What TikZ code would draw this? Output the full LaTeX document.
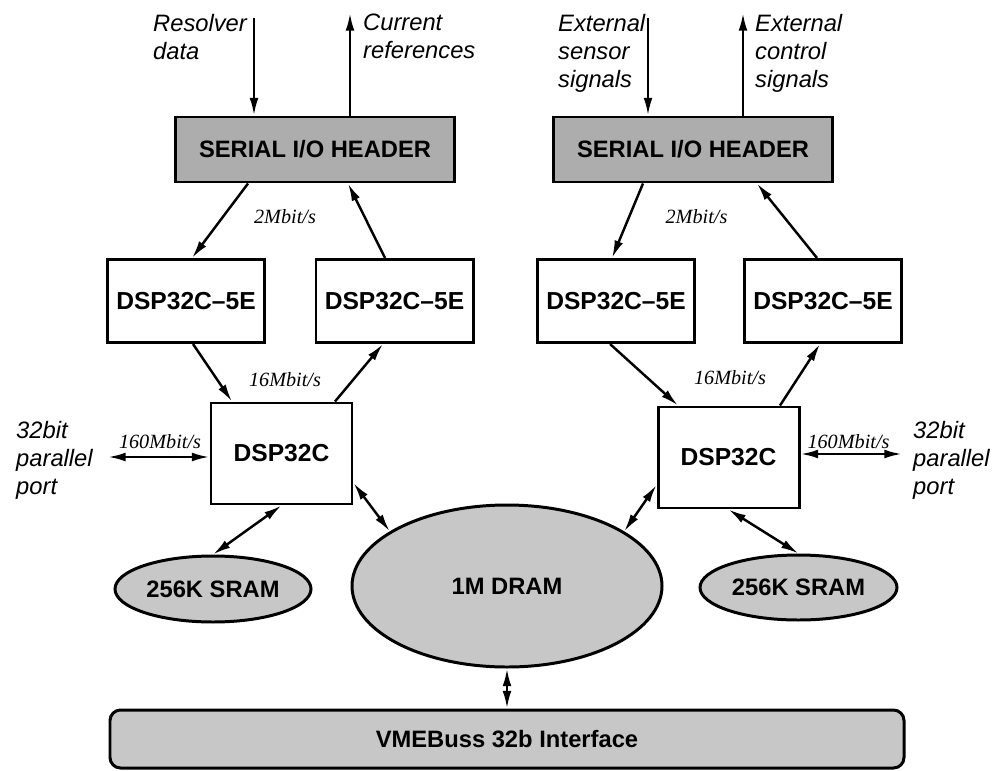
\documentclass[tikz,border=0pt]{standalone}
\usepackage{fontspec}
\setmainfont{Liberation Serif}
\setsansfont{Liberation Sans}
\usetikzlibrary{arrows.meta,shapes.geometric}

\begin{document}
\begin{tikzpicture}[line width=1.4pt, >={Latex[length=10pt,width=5pt]},
    box/.style={draw, line width=1.7pt, minimum width=3.14cm, minimum height=1.66cm, inner sep=0pt, font=\sffamily\bfseries\fontsize{14}{16}\selectfont},
    dsp/.style={box, minimum width=2.82cm, minimum height=2.02cm},
    hdr/.style={box, fill=black!32, minimum width=5.58cm, minimum height=1.3cm, font=\sffamily\bfseries\fontsize{13.5}{16}\selectfont},
    mem/.style={draw, ellipse, line width=1.7pt, fill=black!22, inner sep=0pt, font=\sffamily\bfseries\fontsize{13.5}{16}\selectfont},
    rate/.style={font=\itshape\fontsize{11.5}{13}\selectfont, inner sep=0pt},
    sig/.style={font=\sffamily\itshape\fontsize{13.5}{16}\selectfont, align=left, anchor=north west, inner sep=0pt}]
    \useasboundingbox (0,0) rectangle (19.92,15.4);
    % Serial headers
    \node[hdr] (hdrL) at (6.30,12.41) {SERIAL I/O HEADER};
    \node[hdr] (hdrR) at (13.86,12.41) {SERIAL I/O HEADER};
    % Outside signals
    \node[sig] (resolver) at (3.04,15.14) {Resolver\\data};
    \node[sig] (current) at (7.24,15.14) {Current\\references};
    \node[sig] (sensor) at (11.14,15.14) {External\\sensor\\signals};
    \node[sig] (control) at (15.08,15.14) {External\\control\\signals};
    \coordinate (inL) at (5.08,15.04);
    \coordinate (outL) at (7.0,15.14);
    \coordinate (inR) at (12.96,15.04);
    \coordinate (outR) at (14.86,15.14);
    \draw[->] (inL) -- (inL |- hdrL.north);
    \draw[->] (outL |- hdrL.north) -- (outL);
    \draw[->] (inR) -- (inR |- hdrR.north);
    \draw[->] (outR |- hdrR.north) -- (outR);
    % DSP32C-5E boxes
    \node[box] (aL) at (3.72,9.38) {DSP32C--5E};
    \node[box] (bL) at (7.89,9.38) {DSP32C--5E};
    \node[box] (aR) at (12.32,9.38) {DSP32C--5E};
    \node[box] (bR) at (16.46,9.38) {DSP32C--5E};
    \draw[->] ([xshift=-1.34cm]hdrL.south) -- ([xshift=0.12cm]aL.north);
    \draw[->] ([xshift=-0.19cm]bL.north) -- ([xshift=0.66cm]hdrL.south);
    \draw[->] ([xshift=-1.0cm]hdrR.south) -- ([xshift=-0.08cm]aR.north);
    \draw[->] ([xshift=-0.12cm]bR.north) -- ([xshift=1.28cm]hdrR.south);
    \node[rate] (slowL) at (5.70,11.06) {2Mbit/s};
    \node[rate] (slowR) at (13.93,11.06) {2Mbit/s};
    % DSP32C
    \node[dsp] (dspL) at (5.63,6.33) {DSP32C};
    \node[dsp] (dspR) at (14.57,6.25) {DSP32C};
    \draw[->] ([xshift=0.14cm]aL.south) -- ([xshift=-0.99cm]dspL.north);
    \draw[->] ([xshift=1.07cm]dspL.north) -- ([xshift=-0.23cm]bL.south);
    \draw[->] ([xshift=-0.12cm]aR.south) -- ([xshift=-1.01cm]dspR.north);
    \draw[->] ([xshift=1.03cm]dspR.north) -- ([xshift=-0.06cm]bR.south);
    \node[rate] (midL) at (5.70,7.80) {16Mbit/s};
    \node[rate] (midR) at (14.60,7.84) {16Mbit/s};
    % Parallel ports
    \node[sig] (portL) at (0.30,7.0) {32bit\\parallel\\port};
    \node[sig] (portR) at (18.24,7.0) {32bit\\parallel\\port};
    \coordinate (ppL) at (2.16,6.26);
    \coordinate (ppR) at (18.04,6.32);
    \draw[<->] (ppL) -- (ppL -| dspL.west);
    \draw[<->] (ppR -| dspR.east) -- (ppR);
    \node[rate] (fastL) at (3.20,6.56) {160Mbit/s};
    \node[rate] (fastR) at (16.97,6.56) {160Mbit/s};
    % Memories
    \node[mem, minimum width=3.92cm, minimum height=1.32cm] (sramL) at (4.26,3.62) {256K SRAM};
    \node[mem, minimum width=3.94cm, minimum height=1.30cm] (sramR) at (15.97,3.65) {256K SRAM};
    \node[mem, minimum width=6.2cm, minimum height=3.24cm] (dram) at (10.14,3.68) {1M DRAM};
    \draw[<->] (dspL.south) -- (sramL.north);
    \draw[<->] (dspR.south) -- (sramR.north);
    \draw[<->] ([yshift=-0.59cm]dspL.east) -- (dram.155);
    \draw[<->] ([yshift=-0.55cm]dspR.west) -- (dram.25);
    % VME bus
    \node[box, fill=black!22, rounded corners=6pt, minimum width=15.88cm, minimum height=1.16cm, font=\sffamily\bfseries\fontsize{13.5}{16}\selectfont] (vme) at (10.14,0.62) {VMEBuss 32b Interface};
    \draw[<->] (dram.south) -- (vme.north);
\end{tikzpicture}
\end{document}
